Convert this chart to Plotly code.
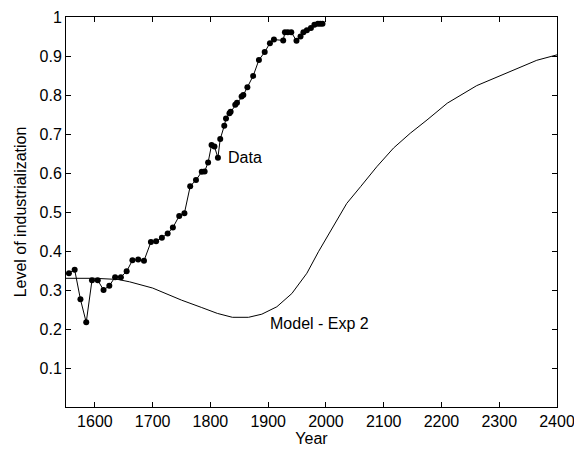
import plotly.graph_objects as go

data_years = [1555, 1565, 1575, 1585, 1595, 1605, 1615, 1625, 1635, 1645, 1655, 1665, 1675, 1685,
              1697, 1706, 1716, 1726, 1735, 1746, 1755, 1765, 1775, 1785, 1790, 1796, 1802, 1807,
              1813, 1817, 1824, 1827, 1833, 1835, 1843, 1846, 1854, 1857, 1864, 1874, 1884, 1894,
              1903, 1910, 1926, 1929, 1934, 1940, 1949, 1956, 1961, 1967, 1974, 1980, 1986, 1990, 1994]
data_values = [0.343, 0.352, 0.276, 0.217, 0.325, 0.325, 0.300, 0.311, 0.333, 0.333, 0.348, 0.376, 0.378, 0.375,
               0.423, 0.425, 0.434, 0.445, 0.460, 0.490, 0.497, 0.566, 0.582, 0.603, 0.604, 0.627, 0.672, 0.668,
               0.639, 0.687, 0.721, 0.740, 0.753, 0.757, 0.775, 0.780, 0.796, 0.800, 0.820, 0.849, 0.890, 0.910,
               0.933, 0.942, 0.940, 0.961, 0.961, 0.961, 0.939, 0.950, 0.961, 0.966, 0.972, 0.980, 0.983, 0.983, 0.983]

model_years = [1550, 1600, 1640, 1660, 1700, 1750, 1785, 1812, 1838, 1866, 1889, 1915, 1941, 1967, 1987,
               2002, 2019, 2036, 2060, 2088, 2117, 2146, 2175, 2210, 2261, 2313, 2365, 2400]
model_values = [0.330, 0.330, 0.327, 0.321, 0.305, 0.274, 0.255, 0.240, 0.230, 0.230, 0.238, 0.257, 0.291,
                0.343, 0.398, 0.437, 0.479, 0.522, 0.565, 0.616, 0.664, 0.702, 0.736, 0.779, 0.824, 0.856,
                0.889, 0.903]

x_ticks = [1600, 1700, 1800, 1900, 2000, 2100, 2200, 2300, 2400]
y_ticks = [0.1, 0.2, 0.3, 0.4, 0.5, 0.6, 0.7, 0.8, 0.9, 1]
y_tick_text = ["0.1", "0.2", "0.3", "0.4", "0.5", "0.6", "0.7", "0.8", "0.9", "1"]

FONT = "Liberation Sans, Arial, sans-serif"
FS = 16

fig = go.Figure()
fig.add_trace(go.Scatter(x=model_years, y=model_values, mode="lines",
                         line=dict(color="black", width=1), showlegend=False))
fig.add_trace(go.Scatter(x=data_years, y=data_values, mode="lines+markers",
                         line=dict(color="black", width=1),
                         marker=dict(color="black", size=6), showlegend=False))

fig.add_annotation(x=1827, y=0.641, text="Data", showarrow=False, xanchor="left", yanchor="middle",
                   font=dict(family=FONT, size=FS, color="black"))
fig.add_annotation(x=1899, y=0.215, text="Model - Exp 2", showarrow=False, xanchor="left", yanchor="middle",
                   font=dict(family=FONT, size=FS, color="black"))

axis_common = dict(showline=True, linecolor="black", linewidth=1, mirror="ticks", ticks="inside",
                   ticklen=5, tickcolor="black", showgrid=False, zeroline=False, automargin=False,
                   tickfont=dict(family=FONT, size=FS, color="black"))

fig.update_xaxes(range=[1550, 2400], tickvals=x_ticks, title=dict(text="Year", standoff=2,
                 font=dict(family=FONT, size=FS, color="black")), **axis_common)
fig.update_yaxes(range=[0, 1], tickvals=y_ticks, ticktext=y_tick_text,
                 title=dict(text="Level of industrialization", standoff=8,
                            font=dict(family=FONT, size=FS, color="black")), **axis_common)

fig.update_layout(width=574, height=445, autosize=False, plot_bgcolor="white", paper_bgcolor="white",
                  margin=dict(l=58, r=25, t=9, b=46), font=dict(family=FONT, color="black"))

fig.write_html("out.html")
